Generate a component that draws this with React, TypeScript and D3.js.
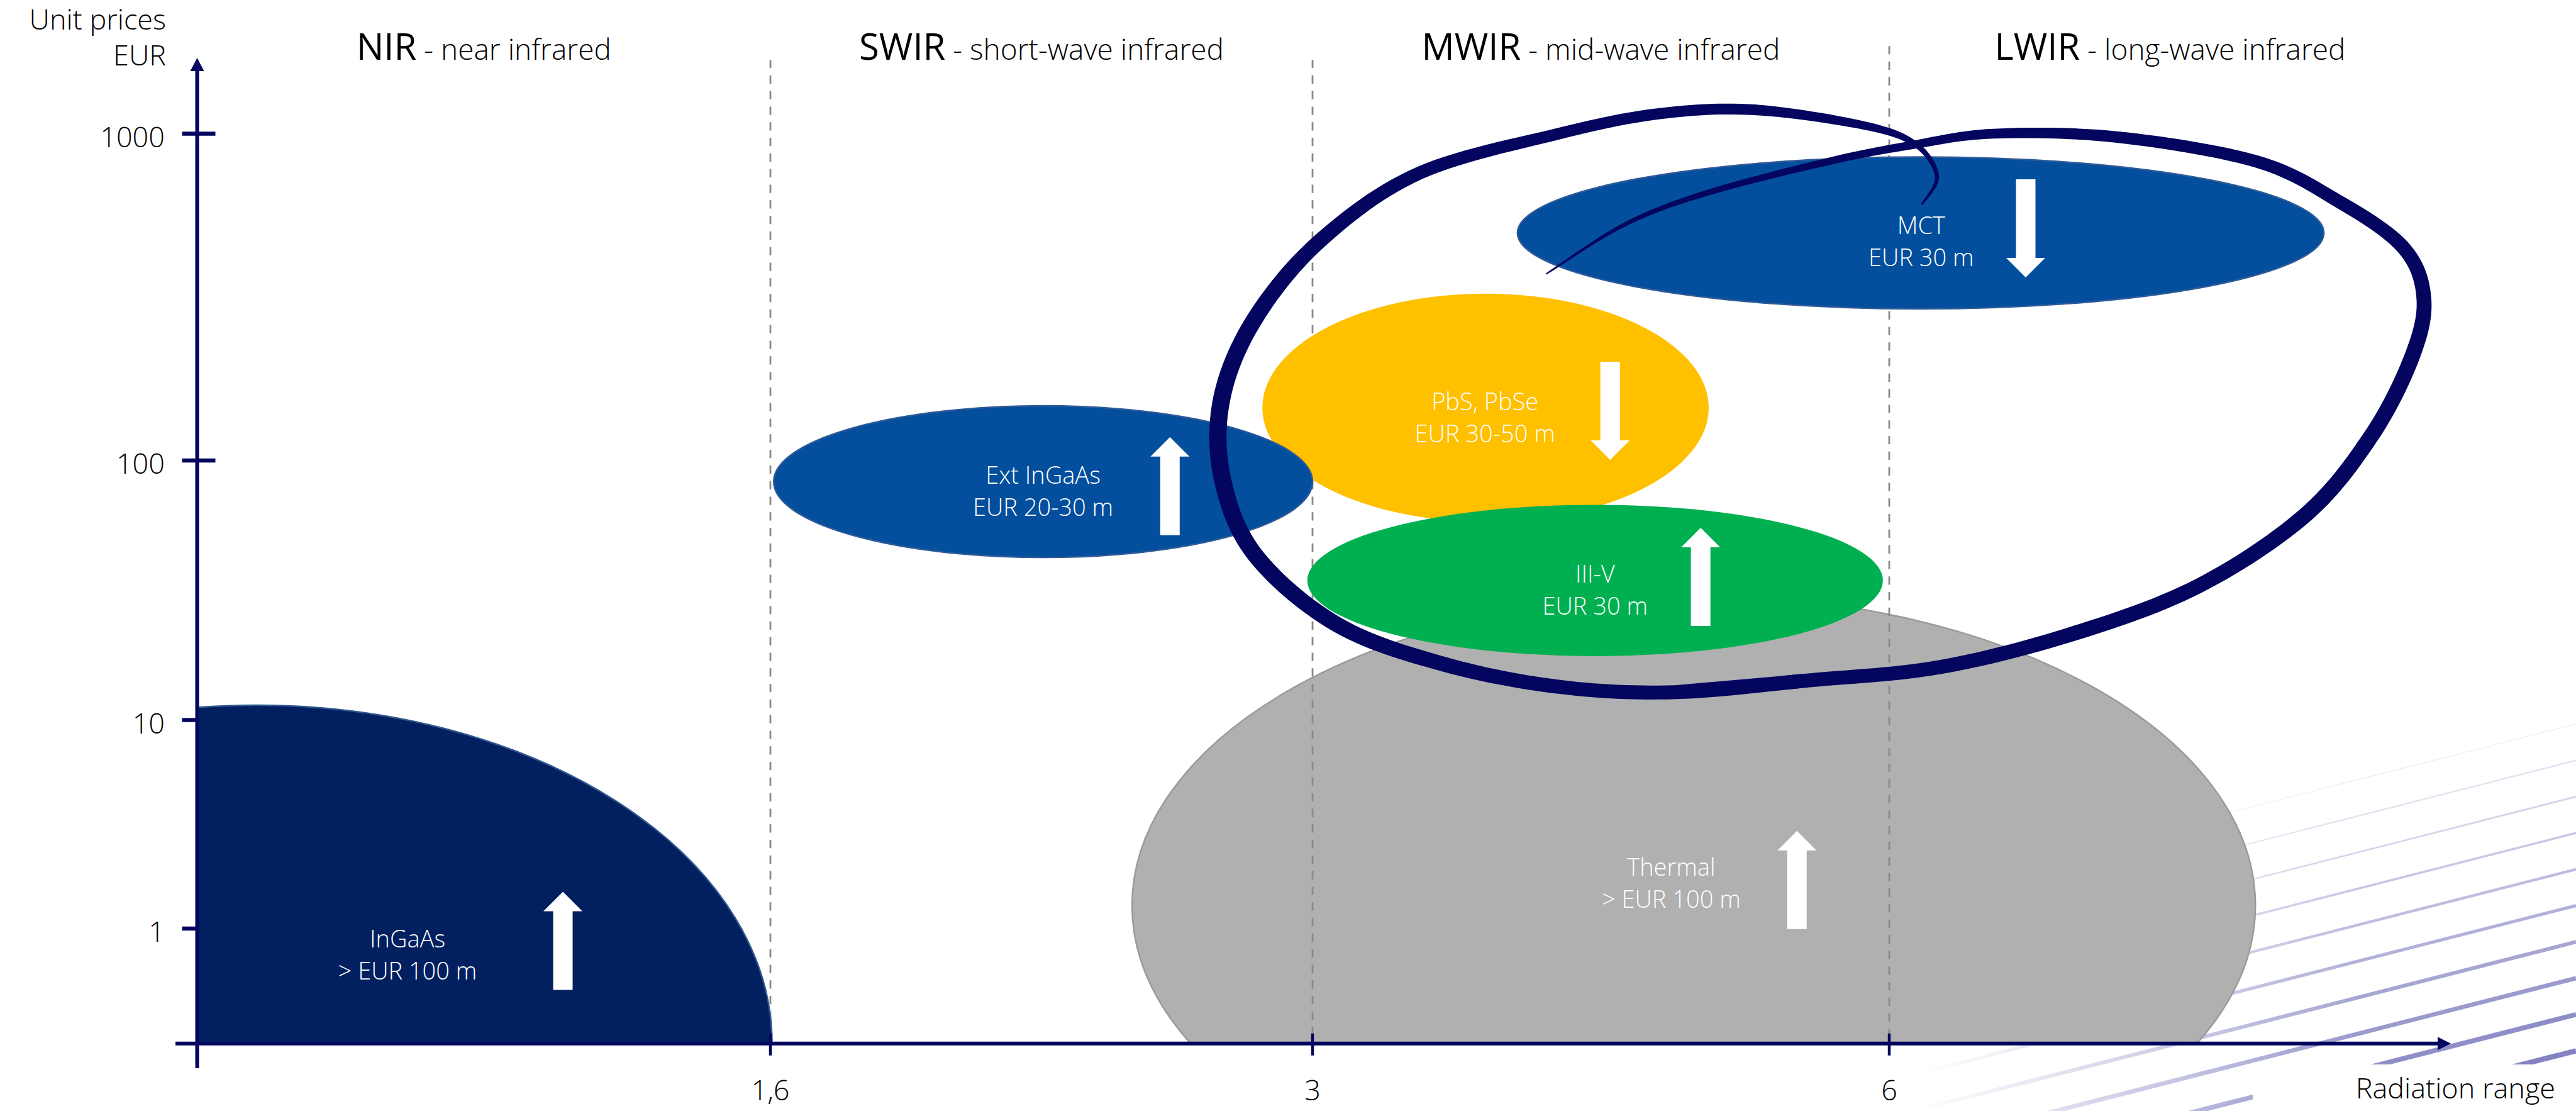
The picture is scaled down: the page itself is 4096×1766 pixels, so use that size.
import React, { useEffect } from "react";
import * as d3 from "d3";

const W = 4096;
const H = 1766;

// radiation axis: band edges (1,6 / 3 / 6 µm) are evenly spaced on the axis
const bandEdges = [0, 1, 2, 3, 4];
const xTickBands = [1, 2, 3];
const xTickLabels = ["1,6", "3", "6"];
const bandCodes = ["NIR", "SWIR", "MWIR", "LWIR"];
const bandNames = ["near infrared", "short-wave infrared", "mid-wave infrared", "long-wave infrared"];

// unit prices axis (EUR), drawn with uneven decades
const priceBreaks = [0.3, 1, 10, 100, 1000];
const priceTicks = [1, 10, 100, 1000];

// technologies: centre (band, price), right edge (band), top (price)
const techNames = ["Thermal", "InGaAs", "PbS, PbSe", "Ext InGaAs", "III-V", "MCT"];
const techCx = [2.661, 0.103, 2.3, 1.503, 2.49, 3.056];
const techCy = [1.29, 0.3, 145, 82.9, 34.5, 497];
const techXEdge = [3.652, 1.003, 2.687, 2.0, 2.989, 3.774];
const techYTop = [30.3, 11.4, 324, 147, 67.5, 849];
const techMarket = ["> EUR 100 m", "> EUR 100 m", "EUR 30-50 m", "EUR 20-30 m", "EUR 30 m", "EUR 30 m"];
const techTrend = ["up", "up", "down", "up", "up", "down"];
const labelBand = [2.622, 0.367, 2.299, 1.503, 2.49, 3.057];
const labelPrice = [1.65, 0.756, 135, 75.9, 31.6, 467];
const arrowBand = [2.84, 0.638, 2.516, 1.737, 2.673, 3.243];
const arrowPrice = [1.71, 0.88, 142, 79.6, 35.6, 513];
const techFill = ["#b0b0b0", "#022060", "#ffc000", "#034f9d", "#00b050", "#034f9d"];
const techStroke = ["#9a9a9a", "#2f568f", "none", "#2f5a98", "none", "#2f5a98"];

// hand-drawn ring around the MWIR/LWIR group: [band, price, width]
const ringA = [
  [3.058, 607, 1.2], [3.085, 740, 2.5], [3.047, 927, 3.5], [2.957, 1059, 5],
  [2.766, 1183, 6.5], [2.601, 1151, 6.8], [2.427, 1000, 7], [2.185, 757, 8],
  [2.014, 472, 9], [1.894, 272, 10], [1.833, 156, 10.5], [1.833, 86.5, 10.5],
  [1.894, 43.3, 10], [2.043, 23.3, 9.5], [2.228, 16.4, 9], [2.43, 13.4, 8.5],
  [2.63, 12.8, 8.5], [2.858, 14.2, 8.5],
];
const ringB = [
  [2.63, 12.8, 8.5], [2.858, 14.2, 8.5], [3.091, 16.0, 8.5], [3.33, 21.6, 9],
  [3.55, 32.8, 9], [3.74, 61.4, 9.5], [3.857, 118, 9.5], [3.93, 206, 9.5],
  [3.952, 313, 9], [3.915, 449, 8.5], [3.798, 624, 8], [3.652, 824, 7.5],
  [3.404, 977, 7], [3.186, 1000, 6], [3.039, 922, 5], [2.897, 824, 4.5],
  [2.684, 659, 3.5], [2.541, 527, 2.5], [2.405, 372, 0.8],
];

const font = "'Open Sans', 'Noto Sans', sans-serif";
const navy = "#03055e";

function brush(pts: number[][]) {
  // catmull-rom centre line, offset by a varying half width
  const s: number[][] = [];
  const n = pts.length;
  const steps = 14;
  for (let i = 0; i < n - 1; i++) {
    const p0 = pts[Math.max(i - 1, 0)], p1 = pts[i], p2 = pts[i + 1], p3 = pts[Math.min(i + 2, n - 1)];
    for (let k = 0; k < steps; k++) {
      const t = k / steps, t2 = t * t, t3 = t2 * t;
      const f = (a: number, b: number, c: number, d: number) =>
        0.5 * (2 * b + (-a + c) * t + (2 * a - 5 * b + 4 * c - d) * t2 + (-a + 3 * b - 3 * c + d) * t3);
      s.push([f(p0[0], p1[0], p2[0], p3[0]), f(p0[1], p1[1], p2[1], p3[1]), p1[2] + (p2[2] - p1[2]) * t]);
    }
  }
  s.push(pts[n - 1]);
  const left: string[] = [];
  const right: string[] = [];
  s.forEach((p, i) => {
    const a = s[Math.max(i - 1, 0)], b = s[Math.min(i + 1, s.length - 1)];
    let tx = b[0] - a[0], ty = b[1] - a[1];
    const len = Math.hypot(tx, ty) || 1;
    tx /= len; ty /= len;
    const h = p[2] / 2;
    left.push(`${p[0] - ty * h},${p[1] + tx * h}`);
    right.push(`${p[0] + ty * h},${p[1] - tx * h}`);
  });
  return "M" + left.join("L") + "L" + right.reverse().join("L") + "Z";
}

export default function App() {
  useEffect(() => {
    document.body.style.margin = "0";
  }, []);

  const x = d3.scaleLinear().domain(bandEdges).range([313.5, 1225, 2087, 3004, 3897]);
  const y = d3.scaleLog().domain(priceBreaks).range([1658.7, 1476, 1144.5, 732, 212.5]);
  const x0 = x(0);
  const y0 = y(0.3);
  const k = 2.612; // reference-shrunk px to output px, for stroke widths

  const arrowLen = 156, shaftW = 31, headW = 62, headL = 31;
  const arrowPts = (dir: string) => {
    const s = dir === "up" ? 1 : -1;
    const t = -s * arrowLen / 2, b = s * arrowLen / 2, hb = t + s * headL;
    return [
      [0, t], [headW / 2, hb], [shaftW / 2, hb], [shaftW / 2, b],
      [-shaftW / 2, b], [-shaftW / 2, hb], [-headW / 2, hb],
    ].map((p) => p.join(",")).join(" ");
  };

  const toPx = (r: number[][]) => r.map((p) => [x(p[0]), y(p[1]), p[2] * k]);

  const stripes = d3.range(16).map((i) => {
    const yr = 1151 + 57.7 * i;
    return { x1: 2950, y1: yr + 0.255 * (W - 2950), x2: W, y2: yr, w: 1.2 + 0.8 * i, o: Math.min(0.95, 0.14 + 0.08 * i) };
  });

  const techOrder = [0, -1, 1, 2, 3, 4, 5]; // -1 = dashed band edges

  return (
    <svg width={W} height={H} style={{ position: "absolute", left: 0, top: 0, background: "#fff" }} fontFamily={font}>
      <defs>
        <clipPath id="plot">
          <rect x={x0} y={0} width={W} height={y0} />
        </clipPath>
        <linearGradient id="fadeGrad" gradientUnits="userSpaceOnUse" x1={3050} y1={0} x2={3750} y2={0}>
          <stop offset="0" stopColor="#000" />
          <stop offset="1" stopColor="#fff" />
        </linearGradient>
        <mask id="fade">
          <rect x={2800} y={900} width={1400} height={900} fill="url(#fadeGrad)" />
        </mask>
      </defs>

      {/* background stripes */}
      <g mask="url(#fade)">
        {stripes.map((s, i) => (
          <line key={i} x1={s.x1} y1={s.y1} x2={s.x2} y2={s.y2} stroke="#6f6fb8" strokeOpacity={s.o} strokeWidth={s.w} />
        ))}
      </g>
      <rect x={3582} y={1692} width={W - 3582} height={H - 1692} fill="#fff" />

      {techOrder.map((t) => {
        if (t === -1) {
          return (
            <g key="edges">
              {xTickBands.map((b) => (
                <line key={b} x1={x(b)} x2={x(b)} y1={b === 3 ? 73 : 95} y2={y0} stroke="#8a8a8a" strokeWidth={2.8} strokeDasharray="13.3 11.5" />
              ))}
            </g>
          );
        }
        const cx = x(techCx[t]);
        const cy = y(techCy[t]);
        const rx = x(techXEdge[t]) - cx;
        const ry = cy - y(techYTop[t]);
        const lx = x(labelBand[t]);
        const ly = y(labelPrice[t]);
        return (
          <g key={t}>
            <ellipse
              cx={cx} cy={cy} rx={rx} ry={ry}
              fill={techFill[t]} stroke={techStroke[t]} strokeWidth={techStroke[t] === "none" ? 0 : 2.5}
              clipPath="url(#plot)"
            />
            <polygon points={arrowPts(techTrend[t])} transform={`translate(${x(arrowBand[t])},${y(arrowPrice[t])})`} fill="#fff" />
            <text x={lx} y={ly - 12} textAnchor="middle" fill="#fff" fontSize={38} fontWeight={300}>{techNames[t]}</text>
            <text x={lx} y={ly + 39} textAnchor="middle" fill="#fff" fontSize={38} fontWeight={300}>{techMarket[t]}</text>
          </g>
        );
      })}

      {/* band titles */}
      {bandCodes.map((c, i) => (
        <text key={c} x={x(i + 0.5)} y={95} textAnchor="middle" fill="#000" fontWeight={300}>
          <tspan fontSize={58} fontWeight={400}>{c}</tspan>
          <tspan fontSize={46}>{" - " + bandNames[i]}</tspan>
        </text>
      ))}

      {/* axes */}
      <line x1={x0} x2={x0} y1={110} y2={1698} stroke={navy} strokeWidth={6} />
      <polygon points={`${x0},92 ${x0 + 11},113 ${x0 - 11},113`} fill={navy} />
      <line x1={279} x2={x(4) - 19} y1={y0} y2={y0} stroke={navy} strokeWidth={6} />
      <polygon points={`${x(4)},${y0} ${x(4) - 21},${y0 - 10.5} ${x(4) - 21},${y0 + 10.5}`} fill={navy} />
      {priceTicks.map((p) => (
        <g key={p}>
          <line x1={x0 - 24} x2={x0 + (p >= 100 ? 29 : 0)} y1={y(p)} y2={y(p)} stroke={navy} strokeWidth={6.5} />
          <text x={262} y={y(p) + 21} textAnchor="end" fontSize={45} fontWeight={300} fill="#000">{p}</text>
        </g>
      ))}
      {xTickBands.map((b, i) => (
        <g key={b}>
          <line x1={x(b)} x2={x(b)} y1={y0 - 16} y2={y0 + 19} stroke={navy} strokeWidth={4.5} />
          <text x={x(b)} y={1749} textAnchor="middle" fontSize={45} fontWeight={300} fill="#000">{xTickLabels[i]}</text>
        </g>
      ))}
      <text x={264} y={47} textAnchor="end" fontSize={45} fontWeight={300} fill="#000">Unit prices</text>
      <text x={264} y={104} textAnchor="end" fontSize={45} fontWeight={300} fill="#000">EUR</text>
      <text x={4063} y={1746} textAnchor="end" fontSize={45} fontWeight={300} fill="#000">Radiation range</text>

      {/* ring */}
      <path d={brush(toPx(ringA))} fill={navy} />
      <path d={brush(toPx(ringB))} fill={navy} />
    </svg>
  );
}
